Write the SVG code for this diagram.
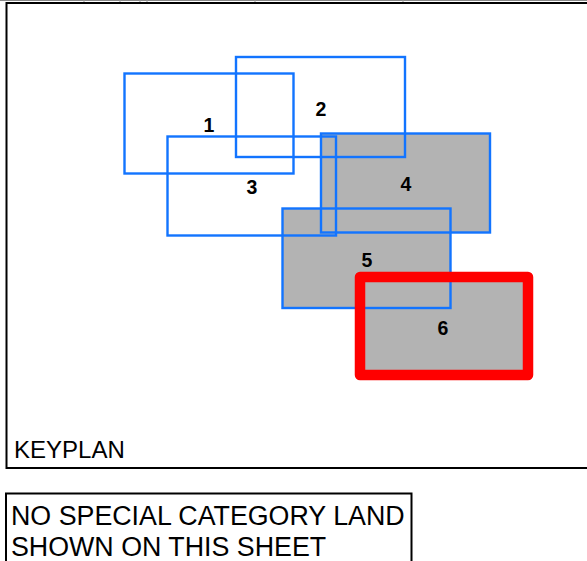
<svg xmlns="http://www.w3.org/2000/svg" width="587" height="561" viewBox="0 0 587 561">
<style>
.frame{fill:none;stroke:#000;stroke-width:2}
.area{fill:#b3b3b3;stroke:none}
.blue{fill:none;stroke:#1274ff;stroke-width:2.4}
.red{fill:none;stroke:#ff0000;stroke-width:10.5;stroke-linejoin:round}
.num{font-family:"Liberation Sans",Arial,sans-serif;font-weight:bold;font-size:19.5px;text-anchor:middle;fill:#000}
.lbl{font-family:"Liberation Sans",Arial,sans-serif;fill:#000}
.tick{stroke:#999;stroke-width:1}
</style>
<rect width="587" height="561" fill="#fff"/>
<line x1="0" y1="0.5" x2="587" y2="0.5" stroke="#888" stroke-width="1"/>
<g class="tick">
<line x1="84" y1="0" x2="84" y2="3"/><line x1="120" y1="0" x2="120" y2="3"/><line x1="140" y1="0" x2="140" y2="3"/><line x1="147" y1="0" x2="147" y2="3"/><line x1="255" y1="0" x2="255" y2="3"/><line x1="403" y1="0" x2="403" y2="3"/>
</g>
<g id="keyplan-frame">
<polyline class="frame" points="590,3 6.5,3 6.5,468 590,468"/>
<text class="lbl" x="14" y="457.5" font-size="24">KEYPLAN</text>
</g>
<g id="fills">
<rect class="area" x="321" y="133.5" width="169" height="99"/>
<rect class="area" x="282.5" y="208.5" width="168" height="99.5"/>
<rect class="area" x="360" y="277" width="168" height="98"/>
</g>
<g id="sheet-1"><rect class="blue" x="124.5" y="73.5" width="169" height="100"/><text class="num" x="209" y="131.5">1</text></g>
<g id="sheet-2"><rect class="blue" x="236" y="57" width="169" height="100"/><text class="num" x="321" y="116">2</text></g>
<g id="sheet-3"><rect class="blue" x="167.5" y="136.5" width="168.5" height="99"/><text class="num" x="252" y="193.5">3</text></g>
<g id="sheet-4"><rect class="blue" x="321" y="133.5" width="169" height="99"/><text class="num" x="406" y="191">4</text></g>
<g id="sheet-5"><rect class="blue" x="282.5" y="208.5" width="168" height="99.5"/><text class="num" x="367" y="267">5</text></g>
<g id="sheet-6"><rect class="red" x="360" y="277" width="168" height="98"/><text class="num" x="443" y="335">6</text></g>
<g id="note">
<polyline class="frame" points="6,565 6,493.5 411.5,493.5 411.5,565"/>
<text class="lbl" x="11" y="524.5" font-size="26.8">NO SPECIAL CATEGORY LAND</text>
<text class="lbl" x="11" y="555.5" font-size="26.8">SHOWN ON THIS SHEET</text>
</g>
</svg>
